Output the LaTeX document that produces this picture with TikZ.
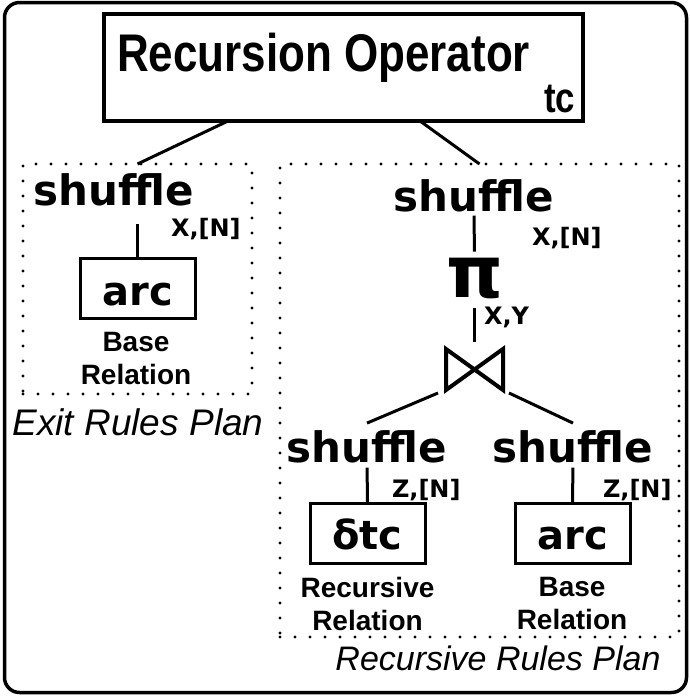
\documentclass[tikz,border=0pt]{standalone}
\usepackage{fontspec}
\setmainfont{Liberation Sans}
\newfontfamily\narrowfont[FakeStretch=0.83]{Liberation Sans}
\newfontfamily\opfont{DejaVu Sans}

\begin{document}
\begin{tikzpicture}
  [x=1pt,y=-1pt,line width=3pt,every node/.style={inner sep=0pt,outer sep=0pt}]

  \tikzstyle{op} = [font=\opfont\bfseries\fontsize{42}{42}\selectfont, anchor=base]
  \tikzstyle{attr} = [font=\opfont\bfseries\fontsize{24}{24}\selectfont, anchor=base west]
  \tikzstyle{rel} = [draw, minimum width=115pt, minimum height=60pt, text height=33pt, text depth=0pt, font=\opfont\bfseries\fontsize{40}{40}\selectfont]
  \tikzstyle{note} = [font=\bfseries\fontsize{28}{33}\selectfont, align=center, anchor=north]
  \tikzstyle{plan} = [draw, line width=3.2pt, dash pattern=on 0pt off 15pt, line cap=round]
  \tikzstyle{caption} = [font=\itshape\fontsize{35}{35}\selectfont, anchor=base]

  \useasboundingbox (0,0) rectangle (690,696);
  \draw[line width=3.5pt, rounded corners=15pt] (4.5,2.5) rectangle (686.5,692.5);

  % recursion operator
  \node[draw, line width=3.5pt, minimum width=479pt, minimum height=107pt] (recop) at (343.5,67.5) {};
  \node[anchor=base west, font=\narrowfont\bfseries\fontsize{53}{53}\selectfont] (recTitle) at (117,71) {Recursion Operator};
  \node[anchor=base east, font=\narrowfont\bfseries\fontsize{42}{42}\selectfont] (recSub) at (575,112) {tc};

  \node[plan, minimum width=229pt, minimum height=230pt] (exitPlan) at (137.5,279) {};
  \node[plan, minimum width=399pt, minimum height=473pt] (recPlan) at (479.5,400.5) {};

  \draw ([xshift=-115.5pt]recop.south) -- (exitPlan.north);
  \draw ([xshift=76.5pt]recop.south) -- (recPlan.north);

  % exit rules
  \node[op] (shufE) at (114,205) {shuffle};
  \node[attr] (keyE) at (171,236) {X,[N]};
  \node[rel] (arcE) at (137.5,288.5) {arc};
  \draw[shorten >=18pt] (arcE.north) -- (arcE.north |- shufE.south);
  \node[note] (baseE) at (136,332) {Base\\Relation};
  \node[caption, font=\itshape\fontsize{37}{37}\selectfont] (exitCap) at (138,435) {Exit Rules Plan};

  % recursive rules
  \node[op] (shufR) at (474,211) {shuffle};
  \node[attr] (keyR) at (532,245) {X,[N]};
  \node[font=\opfont\bfseries\fontsize{72}{72}\selectfont, anchor=base] (proj) at (474.5,297) {π};
  \node[attr] (keyP) at (484,324) {X,Y};
  \node[minimum width=57pt, minimum height=41pt] (join) at (474.5,369.5) {};
  \draw[line width=4pt] (join.north west) -- (join.south east) -- (join.north east) -- (join.south west) -- cycle;

  \node[op] (shufD) at (367,462) {shuffle};
  \node[op] (shufB) at (573,462) {shuffle};
  \node[attr] (keyD) at (392,497) {Z,[N]};
  \node[attr] (keyB) at (603,497) {Z,[N]};
  \node[rel] (delta) at (367.5,533) {δtc};
  \node[rel] (arcB) at (572.5,533) {arc};
  \node[note] (recD) at (367.5,577) {Recursive\\Relation};
  \node[note] (baseB) at (572,577) {Base\\Relation};
  \node[caption, font=\itshape\fontsize{34}{34}\selectfont] (recCap) at (498,670) {Recursive Rules Plan};

  \draw[shorten <=4pt, shorten >=6pt] (shufR.south) -- (proj.north);
  \draw[shorten <=10pt, shorten >=7pt] (proj.south) -- (join.north);
  \draw ([shift={(-8,3)}]join.south west) -- ([shift={(0,-7)}]shufD.north);
  \draw ([shift={(6,3)}]join.south east) -- ([shift={(0,-7)}]shufB.north);
  \draw[shorten <=5pt] (shufD.south) -- (delta.north);
  \draw[shorten <=5pt] (shufB.south) -- (arcB.north);
\end{tikzpicture}
\end{document}
